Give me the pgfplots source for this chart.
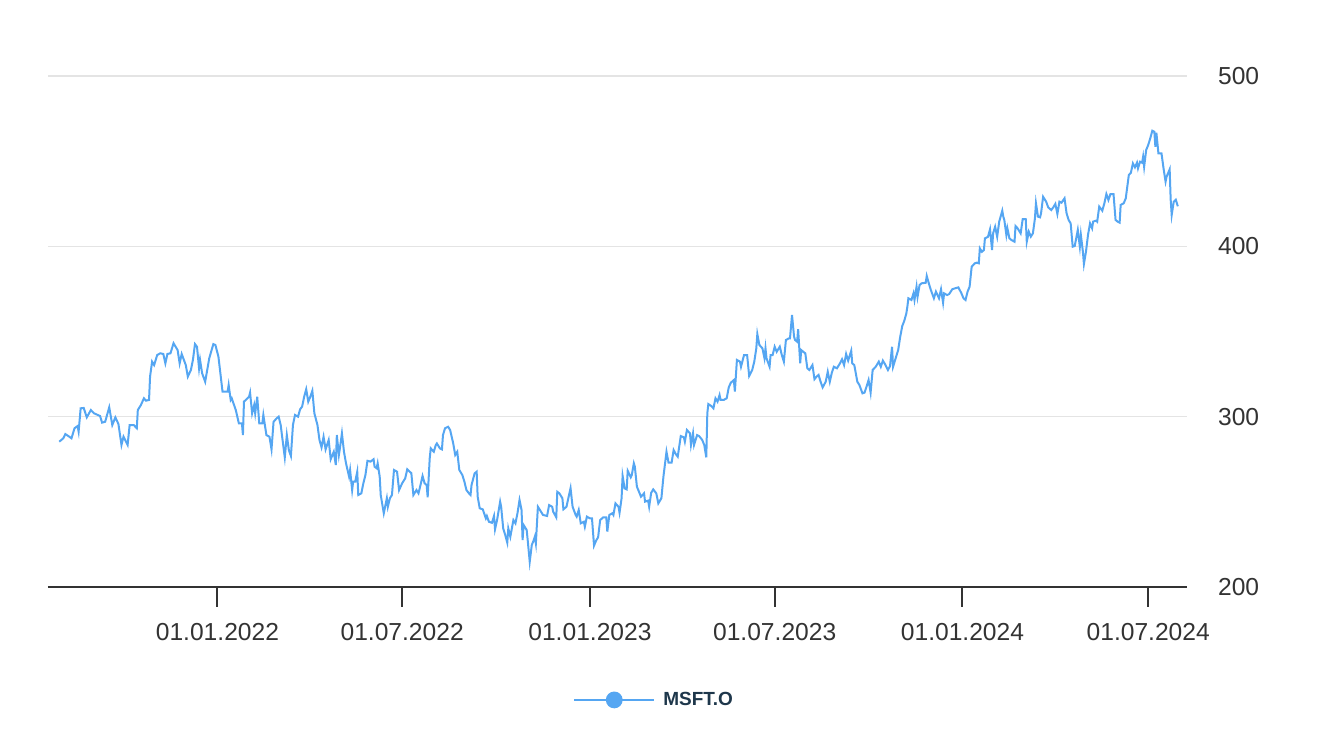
\documentclass[border=0pt]{standalone}
\usepackage{pgfplots}
\pgfplotsset{compat=1.18}
\usepackage{fontspec}
\setmainfont{Liberation Sans}

\definecolor{lineblue}{RGB}{85,166,242}
\definecolor{gridgray}{RGB}{228,228,228}
\definecolor{axisgray}{RGB}{51,51,51}
\definecolor{legendnavy}{RGB}{30,55,75}

% x = days since 01.01.2022, y = price
\begin{document}
\begin{tikzpicture}
\begin{axis}[
    at={(0,0)}, anchor=south west,
    scale only axis,
    width=569.5pt, height=255.5pt,
    xmin=-166, xmax=950,
    ymin=200, ymax=500,
    axis x line*=bottom,
    axis y line*=right,
    x axis line style={-, draw=axisgray, line width=1pt},
    y axis line style={draw=none},
    tick align=outside,
    major tick length=10pt,
    xtick={0,181,365,546,730,912},
    xticklabels={01.01.2022,01.07.2022,01.01.2023,01.07.2023,01.01.2024,01.07.2024},
    xtick style={draw=axisgray, line width=1pt},
    ytick={200,300,400,500},
    ytick style={draw=none},
    ymajorgrids,
    major grid style={draw=gridgray, line width=0.6pt},
    /pgf/number format/assume math mode=true,
    tick label style={font=\fontsize{12.3}{14}\selectfont, text=axisgray},
    xticklabel style={yshift=-4.8pt},
    yticklabel style={anchor=west, xshift=2pt},
    legend style={draw=none, fill=none, at={(0.533,-0.221)}, anchor=center,
        font=\fontsize{9.5}{11}\selectfont\bfseries, text=legendnavy},
    legend image code/.code={
        \draw[lineblue, line width=1pt] (0pt,0pt) -- (40pt,0pt);
        \fill[lineblue] (20pt,0pt) circle (3.7pt);
        \path (42pt,0pt);},
]
\addplot[lineblue, line width=1pt, no marks] coordinates {
(-155,285.3) (-151,287.3) (-149,289.8) (-146,288.6) (-143,287.3) (-140,293.2) (-137,294.5) (-136,291.2)
(-134,304.9) (-131,305.1) (-128,299.6) (-124,303.9) (-121,302.0) (-115,300.4) (-113,296.5) (-110,297.0)
(-106,305.5) (-103,295.1) (-100,299.6) (-97,295.7) (-94,283.4) (-92,288.2) (-88,283.4) (-86,295.1)
(-82,295.1) (-79,293.2) (-78,303.9) (-75,306.8) (-72,310.8) (-70,309.4) (-67,309.8) (-66,323.5)
(-64,332.3) (-62,330.3) (-59,336.2) (-56,337.2) (-53,336.8) (-51,331.3) (-49,336.8) (-46,337.2)
(-43,343.1) (-39,339.1) (-37,331.3) (-35,336.8) (-31,330.3) (-29,323.5) (-26,327.4) (-24,333.3)
(-22,342.6) (-20,341.0) (-18,328.4) (-17,333.3) (-15,325.5) (-12,320.5) (-8,334.3) (-4,342.6)
(-2,342.1) (1,335.2) (5,314.7) (10,314.7) (11,318.6) (13,309.8) (14,310.8) (18,303.9)
(21,296.1) (24,296.1) (25,289.2) (26,308.8) (31,311.7) (32,314.1) (34,302.0) (36,306.8)
(37,302.0) (39,311.7) (41,296.1) (44,296.1) (45,301.0) (48,289.2) (51,288.2) (53,280.8)
(55,297.0) (58,299.0) (60,300.0) (62,295.1) (63,290.2) (66,276.1) (68,289.2) (70,280.4)
(72,276.9) (74,295.1) (76,301.0) (79,300.0) (81,304.3) (83,305.9) (85,311.7) (87,316.1)
(89,308.8) (91,311.7) (93,315.2) (95,302.0) (98,295.1) (100,286.3) (102,282.0) (104,288.2)
(106,280.8) (109,286.3) (111,275.0) (114,279.4) (116,271.6) (117,289.2) (119,277.5) (120,281.4)
(122,290.2) (124,279.4) (126,272.6) (129,264.8) (130,268.7) (132,256.9) (133,261.8) (135,261.8)
(137,267.7) (138,254.0) (141,255.0) (143,260.9) (145,265.7) (147,274.1) (150,273.6) (153,275.0)
(154,270.6) (156,269.7) (157,272.6) (159,264.8) (160,254.0) (163,243.3) (166,252.1) (167,247.1)
(169,252.1) (171,254.0) (173,268.7) (176,267.7) (178,256.9) (181,260.9) (184,263.8) (186,269.1)
(190,266.8) (192,254.0) (195,256.9) (197,255.0) (199,259.9) (201,265.2) (203,260.9) (205,259.9)
(206,252.7) (208,275.5) (209,281.4) (212,279.4) (214,283.4) (215,284.3) (218,281.4) (220,280.8)
(221,289.2) (223,293.2) (226,294.1) (228,292.2) (231,284.4) (233,277.5) (235,279.4) (237,268.7)
(240,265.7) (242,261.8) (244,256.9) (246,255.3) (248,254.0) (249,259.9) (252,266.7) (254,267.7)
(255,253.0) (257,246.2) (260,245.6) (263,240.3) (264,241.7) (266,238.3) (269,237.7) (271,241.7)
(272,233.9) (274,239.3) (277,250.1) (278,247.1) (280,234.4) (282,230.5) (284,226.0) (285,234.4)
(287,229.5) (290,239.3) (292,237.4) (294,243.3) (296,251.1) (298,245.2) (299,227.6) (300,236.4)
(303,233.5) (304,227.6) (306,214.8) (308,224.6) (310,227.6) (311,229.5) (312,225.6) (314,247.1)
(316,245.2) (319,242.3) (323,241.7) (325,248.1) (328,247.1) (329,244.2) (332,240.9) (333,255.9)
(335,255.0) (338,252.1) (339,245.6) (342,247.1) (344,252.6) (346,258.0) (348,247.1) (351,242.3)
(352,241.3) (354,245.2) (356,237.4) (359,238.3) (360,235.4) (362,241.3) (365,240.3) (367,240.3)
(369,224.3) (371,227.2) (373,229.2) (375,239.3) (378,240.9) (381,240.9) (382,232.5) (384,242.3)
(387,243.3) (388,242.3) (390,249.1) (393,247.1) (394,243.6) (396,252.1) (397,265.2) (399,257.9)
(401,257.3) (402,268.2) (405,264.4) (406,265.7) (408,272.6) (409,270.6) (411,258.9) (413,256.0)
(415,253.0) (418,255.0) (419,250.1) (422,250.7) (423,247.1) (425,255.3) (427,257.3) (430,255.0)
(432,249.1) (435,252.1) (437,264.8) (440,279.4) (442,273.0) (445,273.0) (447,280.4) (449,278.1)
(451,276.5) (454,288.6) (457,287.9) (458,285.3) (460,292.2) (463,290.2) (464,283.4) (466,290.2)
(467,283.4) (470,289.2) (472,288.6) (475,286.3) (477,283.4) (479,276.1) (480,302.0) (481,307.4)
(484,306.2) (486,304.9) (488,310.8) (490,308.8) (492,312.7) (493,309.8) (496,309.8) (499,310.8)
(501,317.2) (503,319.9) (506,321.5) (507,314.7) (509,333.3) (512,332.3) (513,329.3) (516,336.2)
(519,336.2) (521,323.9) (524,327.4) (526,332.3) (528,340.1) (529,348.5) (531,342.1) (534,340.1)
(536,334.3) (537,340.1) (538,334.3) (541,329.3) (542,336.2) (544,336.2) (546,341.1) (548,338.1)
(551,341.1) (553,336.2) (555,332.3) (557,345.0) (560,346.0) (561,346.0) (563,359.7) (565,346.9)
(566,345.0) (568,344.0) (569,351.3) (571,331.3) (572,339.1) (574,338.1) (576,337.2) (578,328.4)
(580,327.4) (583,330.3) (585,322.0) (587,323.5) (589,324.5) (591,320.5) (593,317.2) (596,320.5)
(598,326.4) (600,320.5) (602,325.8) (604,329.3) (607,328.4) (610,331.3) (612,333.7) (614,330.3)
(616,336.8) (618,332.9) (621,338.7) (622,331.3) (624,330.3) (627,320.5) (629,318.6) (632,313.7)
(634,314.1) (636,317.6) (638,321.5) (640,314.1) (642,327.4) (645,329.3) (646,330.3) (648,332.3)
(650,329.3) (652,332.9) (654,330.9) (657,327.4) (659,329.7) (661,341.0) (662,329.3) (665,335.2)
(667,339.1) (669,346.9) (671,353.2) (673,356.3) (675,360.6) (676,364.5) (677,369.5) (680,368.5)
(682,372.4) (683,368.5) (685,376.3) (686,370.4) (688,377.3) (690,378.3) (694,378.6) (695,382.6)
(697,378.3) (699,374.4) (702,369.5) (704,373.4) (707,369.5) (709,374.8) (711,366.9) (712,372.4)
(715,371.4) (717,372.0) (720,374.8) (723,375.4) (726,375.9) (729,372.4) (731,369.5) (733,368.5)
(735,373.4) (737,376.3) (739,388.0) (742,390.0) (744,390.4) (746,390.0) (747,398.8) (749,396.8)
(751,397.8) (752,404.7) (755,405.6) (757,410.0) (759,397.8) (760,407.6) (762,411.5) (764,405.6)
(766,414.5) (769,420.9) (770,417.4) (771,415.5) (773,406.7) (774,410.6) (776,404.7) (778,403.7)
(781,402.7) (782,411.9) (784,410.6) (786,408.6) (787,407.6) (789,415.9) (792,415.9) (793,402.7)
(795,408.6) (797,405.7) (799,407.6) (801,416.4) (802,425.3) (804,417.4) (806,417.0) (807,419.4)
(809,429.1) (812,426.2) (814,422.9) (817,421.3) (819,422.9) (821,424.9) (823,419.0) (825,426.2)
(827,425.6) (830,428.2) (832,419.4) (834,415.5) (836,413.5) (838,399.8) (840,400.2) (843,409.6)
(845,399.8) (846,406.7) (848,396.8) (849,389.6) (851,396.8) (853,406.7) (855,413.5) (857,410.6)
(858,414.5) (861,415.1) (862,414.5) (864,423.3) (867,420.9) (869,425.2) (871,430.7) (873,427.2)
(875,430.7) (878,430.7) (880,415.5) (882,414.5) (884,413.9) (885,424.3) (888,425.3) (890,428.2)
(893,441.9) (895,443.2) (897,448.7) (899,446.4) (901,449.1) (902,445.8) (904,449.7) (906,449.1)
(907,452.6) (908,446.7) (910,456.6) (912,459.5) (914,463.4) (916,467.9) (918,467.3) (919,458.5)
(920,466.7) (922,454.6) (925,454.6) (927,445.8) (929,438.0) (930,440.9) (933,445.2) (934,427.4)
(935,418.4) (937,426.2) (939,427.4) (941,423.5)
};
\addlegendentry{MSFT.O}
\end{axis}
\pgfresetboundingbox
\path[use as bounding box] (-24pt,-72.5pt) rectangle (636pt,293.5pt);
\end{tikzpicture}
\end{document}
